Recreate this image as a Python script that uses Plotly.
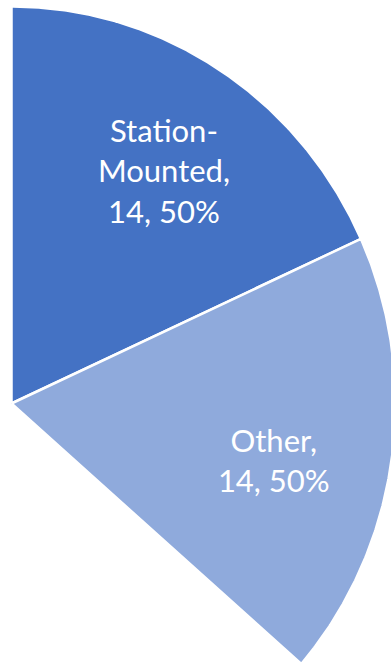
import numpy as np
import plotly.graph_objects as go

# Slice data
labels = ["Station-Mounted", "Other"]
values = [14, 14]
colors = ["#4472C4", "#8FAADC"]

# Wedge geometry (style constants)
START_ANGLE_DEG = 90.0      # first slice starts at 12 o'clock
TOTAL_SWEEP_DEG = 131.0     # angular extent shared by the drawn slices (clockwise)
LABEL_RADIUS = 0.70
LABEL_NUDGE_DEG = [-1.8, -4.4]
ARC_POINTS = 240

total = float(sum(values))
fig = go.Figure()

angle = START_ANGLE_DEG
label_x, label_y, label_text = [], [], []
for i, (lab, val, col) in enumerate(zip(labels, values, colors)):
    sweep = val / total * TOTAL_SWEEP_DEG
    a0, a1 = angle, angle - sweep
    th = np.radians(np.linspace(a0, a1, ARC_POINTS))
    xs = np.concatenate([[0.0], np.cos(th), [0.0]])
    ys = np.concatenate([[0.0], np.sin(th), [0.0]])
    fig.add_trace(go.Scatter(
        x=xs, y=ys, mode="lines", fill="toself",
        fillcolor=col, line=dict(color="white", width=2.5),
        hoverinfo="skip", showlegend=False,
    ))
    mid = np.radians((a0 + a1) / 2 + LABEL_NUDGE_DEG[i])
    label_x.append(LABEL_RADIUS * np.cos(mid))
    label_y.append(LABEL_RADIUS * np.sin(mid))
    pct = val / total
    label_text.append(f"{lab.replace('-', '-<br>')},<br>{val}, {pct:.0%}")
    angle = a1

fig.add_trace(go.Scatter(
    x=label_x, y=label_y, mode="text", text=label_text,
    textposition="middle center",
    textfont=dict(family="Lato, 'Open Sans', sans-serif", size=31, color="white"),
    hoverinfo="skip", showlegend=False,
))

# Axis ranges place the pie centre near the left edge; x/y units differ slightly
W, H = 391, 664
CX, CY, RX, RY = 11.5, 403.5, 384.0, 397.0
fig.update_layout(
    width=W, height=H,
    margin=dict(l=0, r=0, t=0, b=0),
    paper_bgcolor="white", plot_bgcolor="white",
    xaxis=dict(range=[-CX / RX, (W - CX) / RX], visible=False, fixedrange=True),
    yaxis=dict(range=[(CY - H) / RY, CY / RY], visible=False, fixedrange=True),
)

fig.write_html("out.html")
